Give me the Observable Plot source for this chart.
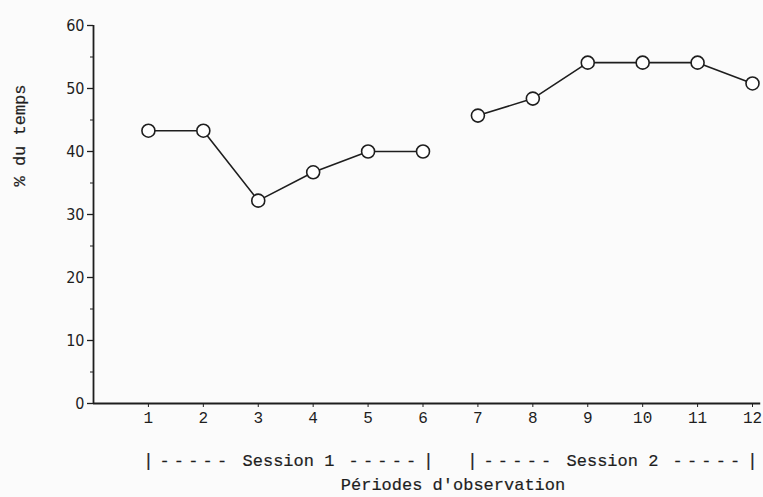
<!DOCTYPE html>
<html><head><meta charset="utf-8">
<script src="https://cdn.jsdelivr.net/npm/d3@7"></script>
<script src="https://cdn.jsdelivr.net/npm/@observablehq/plot@0.6"></script>
<style>
html,body{margin:0;padding:0;background:#fbfbfb}
svg{background:#fbfbfb}
</style>
</head><body><div id="chart"></div>
<script>
const periods = [1,2,3,4,5,6,7,8,9,10,11,12];
const session1 = [43.3,43.3,32.2,36.7,40.0,40.0];
const session2 = [45.7,48.4,54.1,54.1,54.1,50.8];
const yTicks = [0,10,20,30,40,50,60];
const yMinor = [5,15,25,35,45,55];
const sessionNames = ["Session 1","Session 2"];
const sessionStart = [1,6.9];
const sessionEnd = [6.1,12];
const yLabel = "% du temps";
const xLabel = "Périodes d'observation";

const values = session1.concat(session2);
const data = periods.map((p,i)=>({period:p, value:values[i], session: i<6 ? sessionNames[0] : sessionNames[1]}));
const sessions = sessionNames.map((n,i)=>({name:n, start:sessionStart[i], end:sessionEnd[i], mid:(sessionStart[i]+sessionEnd[i])/2}));

const tickFont = "'DejaVu Sans Condensed','Liberation Sans Narrow',sans-serif";
const mono = "'Liberation Mono','DejaVu Sans Mono',monospace";
const ink = "#1e1e1e";
const rowDy = 62;
const txt = {fontSize:17, fontFamily:mono, fill:ink, stroke:ink, strokeWidth:0.2};

const chart = Plot.plot({
  width: 763, height: 497,
  marginLeft: 93, marginRight: 11, marginTop: 25, marginBottom: 94,
  style: {background:"#fbfbfb", color: ink, overflow:"visible"},
  x: {domain:[0,12]},
  y: {domain:[0,60]},
  marks: [
    Plot.axisY({ticks:yTicks, tickSize:6, tickPadding:3, fontSize:16, fontFamily:tickFont, label:null, stroke:ink, strokeWidth:1.3}),
    Plot.axisY({ticks:yMinor, tickSize:3, tickFormat:()=>"", label:null, stroke:ink}),
    Plot.axisX({ticks:periods, tickSize:4, tickPadding:4, fontSize:16, fontFamily:mono, label:null, stroke:ink}),
    Plot.ruleX([0], {y1:0, y2:60, stroke:ink, strokeWidth:1.8}),
    Plot.ruleY([0], {x1:0, x2:12.15, stroke:ink, strokeWidth:1.8}),
    Plot.line(data, {x:"period", y:"value", z:"session", stroke:ink, strokeWidth:1.6}),
    Plot.dot(data, {x:"period", y:"value", r:6.5, fill:"white", stroke:ink, strokeWidth:1.6}),
    // session brackets
    Plot.text(sessions, {x:"start", text:()=>"|", frameAnchor:"bottom", dy:rowDy, ...txt, fontSize:18}),
    Plot.text(sessions, {x:"end", text:()=>"|", frameAnchor:"bottom", dy:rowDy, ...txt, fontSize:18}),
    Plot.text(sessions, {x:"start", text:()=>"-----", textAnchor:"start", frameAnchor:"bottom", dy:rowDy, dx:11, ...txt}),
    Plot.text(sessions, {x:"end", text:()=>"-----", textAnchor:"end", frameAnchor:"bottom", dy:rowDy, dx:-8, ...txt}),
    Plot.text(sessions, {x:"mid", text:"name", frameAnchor:"bottom", dy:rowDy, ...txt}),
    Plot.text([xLabel], {frameAnchor:"bottom", dy:86, dx:30, ...txt}),
    Plot.text([yLabel], {frameAnchor:"left", dx:-74, dy:-28, rotate:-90, ...txt})
  ]
});
d3.select(chart).selectAll("text").filter(function(){ return this.textContent === "-----"; })
  .attr("letter-spacing", "4.2px");
document.getElementById("chart").appendChild(chart);
</script>
</body></html>
